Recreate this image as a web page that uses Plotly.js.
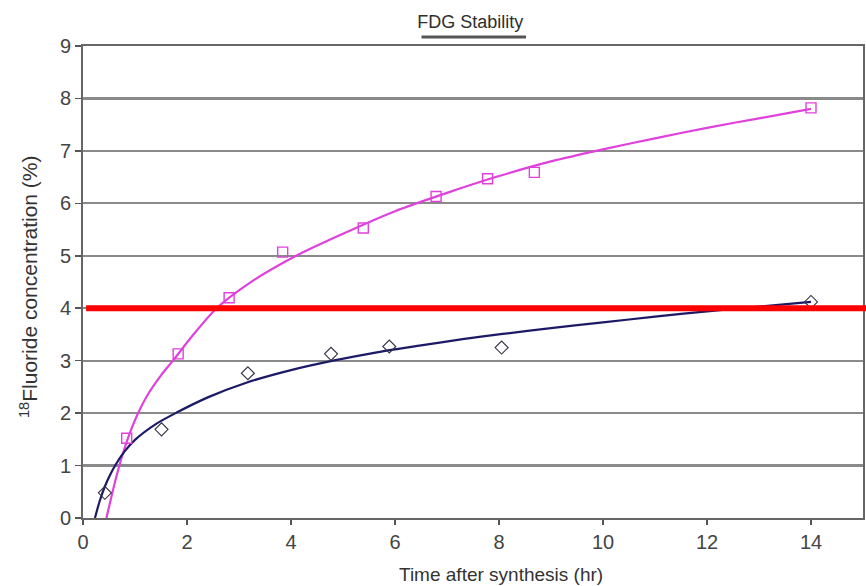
<!DOCTYPE html>
<html>
<head>
<meta charset="utf-8">
<script src="https://cdn.plot.ly/plotly-3.0.1.min.js"></script>
<style>html,body{margin:0;padding:0;background:#fff;}#chart{width:866px;height:586px;}</style>
</head>
<body>
<div id="chart"></div>
<script>
// Measured data points
var fdgPinkX = [0.84, 1.83, 2.81, 3.84, 5.39, 6.79, 7.78, 8.68, 14.0];
var fdgPinkY = [1.52, 3.13, 4.20, 5.07, 5.53, 6.13, 6.47, 6.59, 7.82];
var fdgNavyX = [0.42, 1.51, 3.17, 4.77, 5.89, 8.05, 14.0];
var fdgNavyY = [0.48, 1.69, 2.76, 3.13, 3.27, 3.25, 4.12];

// Trendlines
var trendPinkX = [0.45, 0.55, 0.65, 0.77, 0.9, 1.05, 1.25, 1.5, 1.73, 2.1, 2.57, 3.2, 4.1, 5.0, 6.0, 7.0, 8.0, 9.0, 10.0, 11.0, 12.0, 13.0, 14.0];
var trendPinkY = [0.0, 0.42, 0.82, 1.24, 1.62, 1.98, 2.36, 2.72, 3.0, 3.47, 4.0, 4.48, 5.0, 5.42, 5.85, 6.2, 6.52, 6.8, 7.03, 7.24, 7.44, 7.62, 7.8];
var trendNavyX = [0.23, 0.32, 0.42, 0.52, 0.63, 0.8, 1.0, 1.4, 1.8, 2.4, 3.14, 4.0, 4.81, 5.6, 6.5, 7.3, 8.07, 9.0, 10.0, 11.0, 12.0, 13.0, 14.0];
var trendNavyY = [0.0, 0.32, 0.6, 0.82, 1.02, 1.27, 1.49, 1.79, 2.01, 2.3, 2.58, 2.82, 3.0, 3.15, 3.29, 3.41, 3.51, 3.62, 3.73, 3.84, 3.94, 4.03, 4.12];

var limitY = 4;
var xTicks = [0, 2, 4, 6, 8, 10, 12, 14];
var yTicks = [0, 1, 2, 3, 4, 5, 6, 7, 8, 9];

var pink = '#e040dc';
var navy = '#1c1a66';
var sans = '"Liberation Sans", Arial, sans-serif';

var traces = [
  {x: trendPinkX, y: trendPinkY, mode: 'lines', line: {color: pink, width: 2.2, shape: 'spline', smoothing: 0.8}, hoverinfo: 'skip'},
  {x: trendNavyX, y: trendNavyY, mode: 'lines', line: {color: navy, width: 2.2, shape: 'spline', smoothing: 0.8}, hoverinfo: 'skip'},
  {x: fdgPinkX, y: fdgPinkY, mode: 'markers', marker: {symbol: 'square-open', size: 10, color: pink, line: {width: 1.4, color: pink}}},
  {x: fdgNavyX, y: fdgNavyY, mode: 'markers', marker: {symbol: 'diamond-open', size: 10, color: '#333344', line: {width: 1.1, color: '#333344'}}}
];

var layout = {
  width: 866, height: 586,
  margin: {l: 83, r: 3, t: 46, b: 68},
  paper_bgcolor: '#ffffff', plot_bgcolor: '#ffffff',
  showlegend: false,
  font: {family: sans, color: '#333333'},
  title: {text: 'FDG Stability', x: 0.543, xanchor: 'center', y: 0.963, yanchor: 'middle',
          font: {size: 18, color: '#2e2e2e', family: sans}},
  xaxis: {
    range: [0, 15], tickvals: xTicks, ticktext: xTicks.map(String),
    showgrid: false, zeroline: false,
    showline: true, linecolor: '#666666', linewidth: 2, mirror: true,
    ticks: 'outside', ticklen: 5, tickwidth: 1.5, tickcolor: '#555555',
    tickfont: {size: 20, color: '#444444', family: sans}
  },
  yaxis: {
    range: [0, 9], tickvals: yTicks, ticktext: yTicks.map(String),
    showgrid: true, gridcolor: '#8a8a8a', gridwidth: 2.2,
    zeroline: false,
    showline: true, linecolor: '#666666', linewidth: 2, mirror: true,
    ticks: 'outside', ticklen: 6, tickwidth: 1.5, tickcolor: '#555555',
    tickfont: {size: 20, color: '#444444', family: sans}
  },
  annotations: [
    {text: 'Time after synthesis (hr)', xref: 'paper', yref: 'paper', x: 0.536, y: -0.119,
     xanchor: 'center', yanchor: 'middle', showarrow: false,
     font: {size: 19, color: '#333333', family: sans}},
    {text: '<sup>18</sup>Fluoride concentration (%)', xref: 'paper', yref: 'paper', x: -0.07, y: 0.49,
     xanchor: 'center', yanchor: 'middle', showarrow: false, textangle: -90,
     font: {size: 21, color: '#333333', family: sans}}
  ],
  shapes: [
    {type: 'line', xref: 'paper', yref: 'y', x0: 0.004, x1: 1.005, y0: limitY, y1: limitY,
     line: {color: '#ff0000', width: 6}, layer: 'above'},
    {type: 'line', xref: 'paper', yref: 'paper', x0: 0.434, x1: 0.568, y0: 1.019, y1: 1.019,
     line: {color: '#555555', width: 3}}
  ]
};

Plotly.newPlot('chart', traces, layout, {displayModeBar: false, staticPlot: true});
</script>
</body>
</html>
